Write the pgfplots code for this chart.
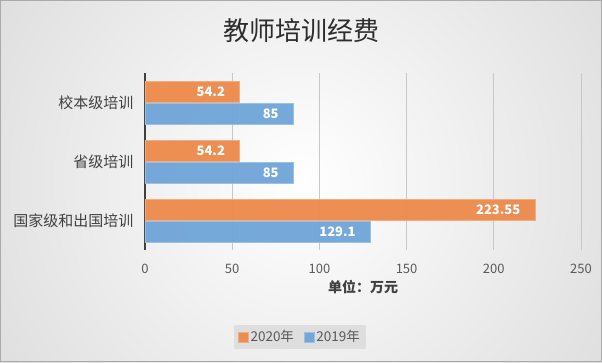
\documentclass[border=0pt]{standalone}
\usepackage{pgfplots}
\pgfplotsset{compat=1.18}
\usepackage{fontspec}
\setmainfont{Noto Sans CJK SC}
\definecolor{cOr}{RGB}{237,137,75}
\definecolor{cBl}{RGB}{111,165,216}
\definecolor{txt}{RGB}{89,89,89}
\definecolor{dtxt}{RGB}{64,64,64}
\definecolor{bg}{RGB}{186,186,186}
\definecolor{grd}{RGB}{200,200,200}
\definecolor{lg}{RGB}{222,222,222}
\begin{document}
\begin{tikzpicture}[x=1pt,y=1pt]
\begin{scope}
\clip (0,0) rectangle (602,362);
\shade[inner color=white, outer color=bg] (301,181) circle (760);
\end{scope}
\draw[color={rgb,255:red,170;green,170;blue,170}, line width=1pt] (0.5,0.5) rectangle (601.5,361.5);
\node[font=\fontsize{26}{30}\selectfont, text={rgb,255:red,45;green,45;blue,45}] at (301,331) {教师培训经费};
\begin{axis}[
  at={(145pt,112pt)}, anchor=south west, scale only axis,
  width=436pt, height=177pt,
  xmin=0, xmax=250, ymin=-0.5, ymax=2.5,
  xtick={0,50,100,150,200,250},
  ytick={0,1,2},
  yticklabels={国家级和出国培训,省级培训,校本级培训},
  axis lines*=left,
  x axis line style={draw=none},
  y axis line style={line width=2.5pt, draw=dtxt},
  major tick length=0pt,
  xmajorgrids,
  grid style={line width=0.8pt, color=grd},
  /pgf/number format/assume math mode=true,
  xticklabel style={font=\fontsize{13}{15}\selectfont, text=txt, yshift=-11pt},
  yticklabel style={font=\fontsize{15}{18}\selectfont, text=dtxt, xshift=-8pt},
  xlabel={单位：万元},
  every axis x label/.style={at={(axis description cs:0.5,0)}, anchor=center, yshift=-37pt, font=\bfseries\fontsize{14}{16}\selectfont, text=dtxt},
  legend style={at={(axis description cs:0.3555,-0.4915)}, anchor=center,
    fill=lg, draw=none, font=\fontsize{13.5}{16}\selectfont, text=txt,
    inner xsep=4pt, inner ysep=4pt,
    /tikz/every even column/.append style={column sep=8pt}},
  legend columns=2,
  legend image code/.code={\fill[#1] (-2pt,-5pt) rectangle (8pt,5pt);},
  every node near coord/.append style={anchor=east, xshift=-11pt, text=white, text opacity=1, font=\bfseries\fontsize{13}{15}\selectfont},
]
\addplot[xbar, bar width=21pt, bar shift=11pt, fill=cOr, draw=cOr!70!white, line width=0.5pt, fill opacity=0.95, point meta=x, nodes near coords,
  every node near coord/.append style={yshift=11pt}]
  coordinates {(223.55,0) (54.2,1) (54.2,2)};
\addlegendentry{2020年}
\addplot[xbar, bar width=21pt, bar shift=-11pt, fill=cBl, draw=cBl!70!white, line width=0.5pt, fill opacity=0.95, point meta=x, nodes near coords,
  every node near coord/.append style={yshift=-11pt}]
  coordinates {(129.1,0) (85,1) (85,2)};
\addlegendentry{2019年}
\end{axis}
\end{tikzpicture}
\end{document}
